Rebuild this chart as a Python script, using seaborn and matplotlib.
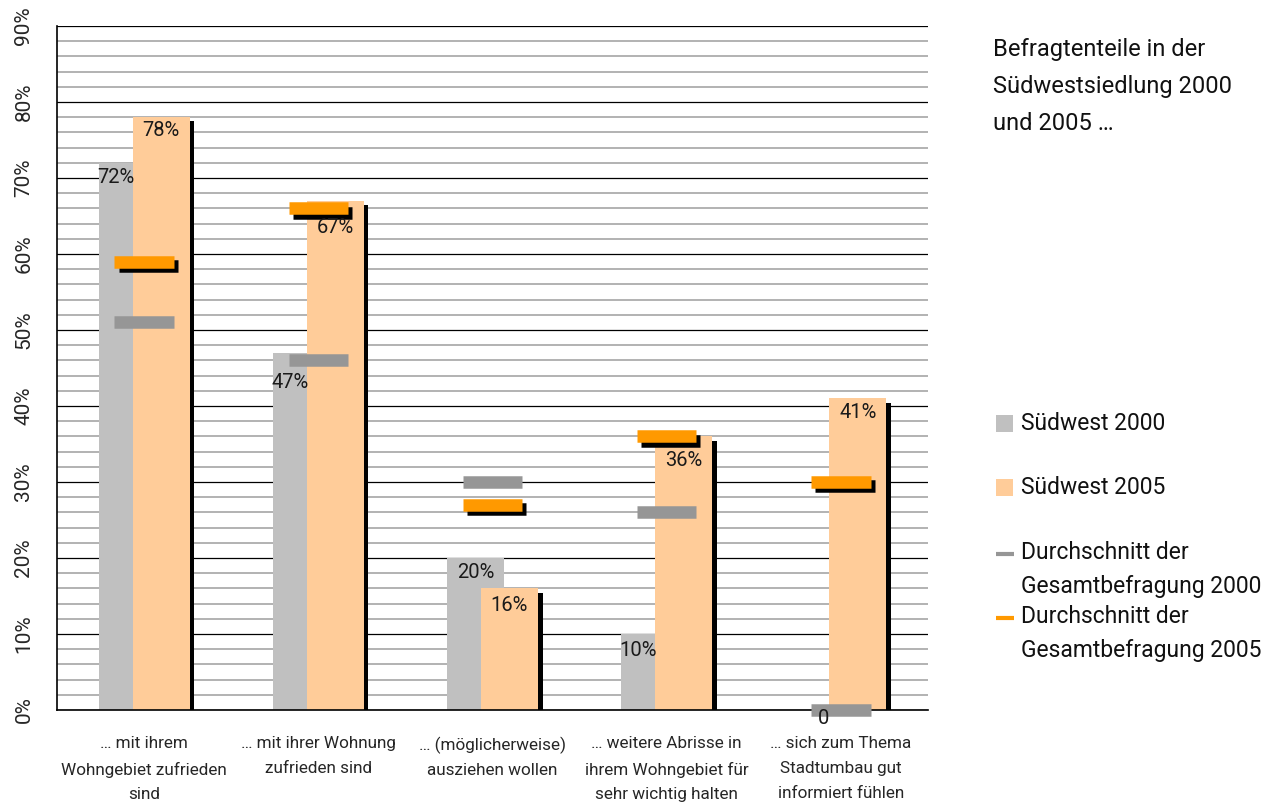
import numpy as np
import pandas as pd
import matplotlib
matplotlib.use("Agg")
import matplotlib.pyplot as plt
import matplotlib.patheffects as pe
from matplotlib.patches import Rectangle
from matplotlib.lines import Line2D
from matplotlib.ticker import FixedLocator, MultipleLocator
import seaborn as sns

# --- data ---
categories = [
    "… mit ihrem\nWohngebiet zufrieden\nsind",
    "… mit ihrer Wohnung\nzufrieden sind",
    "… (möglicherweise)\nausziehen wollen",
    "… weitere Abrisse in\nihrem Wohngebiet für\nsehr wichtig halten",
    "… sich zum Thema\nStadtumbau gut\ninformiert fühlen",
]
suedwest_2000 = [72, 47, 20, 10, 0]
suedwest_2005 = [78, 67, 16, 36, 41]
avg_2000 = [51, 46, 30, 26, 0]
avg_2005 = [59, 66, 27, 36, 30]
y_ticks = [0, 10, 20, 30, 40, 50, 60, 70, 80, 90]

title = "Befragtenteile in der\nSüdwestsiedlung 2000\nund 2005 …"
legend_labels = ["Südwest 2000", "Südwest 2005",
                 "Durchschnitt der\nGesamtbefragung 2000",
                 "Durchschnitt der\nGesamtbefragung 2005"]

GRAY_BAR = "#c0c0c0"
ORANGE_BAR = "#ffcc99"
GRAY_AVG = "#969696"
ORANGE_AVG = "#ff9900"

sns.set_style("white")
plt.rcParams["font.family"] = ["Roboto", "DejaVu Sans"]

W, H = 1278, 807
fig = plt.figure(figsize=(W / 100, H / 100), dpi=100)
ax = fig.add_axes([57 / W, 1 - 710 / H, (928 - 57) / W, (710 - 26) / H])

df = pd.DataFrame({
    "Kategorie": categories * 2,
    "Anteil": suedwest_2000 + suedwest_2005,
    "Reihe": ["Südwest 2000"] * len(categories) + ["Südwest 2005"] * len(categories),
})

sns.barplot(data=df, x="Kategorie", y="Anteil", hue="Reihe",
            palette=[GRAY_BAR, ORANGE_BAR], saturation=1, width=0.39,
            dodge=True, legend=False, ax=ax, zorder=2)

# overlapping bars like the Excel original: widen each bar around its own centre
bar_w = 0.327
n = len(categories)
for p in ax.patches:
    c = p.get_x() + p.get_width() / 2
    p.set_width(bar_w)
    p.set_x(c - bar_w / 2)
    p.set_linewidth(0)
gray_patches = ax.patches[:n]
orange_patches = ax.patches[n:]
for p in orange_patches:
    p.set_path_effects([pe.SimplePatchShadow(offset=(3.3, -3), shadow_rgbFace="black", alpha=1),
                        pe.Normal()])

# averages of the whole survey as short thick dashes
xs = np.arange(n)
half = 0.17
ax.hlines(avg_2000, xs - half, xs + half, colors=GRAY_AVG, linewidth=9, capstyle="butt",
          zorder=4, clip_on=False)
ax.hlines(avg_2005, xs - half, xs + half, colors=ORANGE_AVG, linewidth=9, capstyle="butt", zorder=5,
          path_effects=[pe.SimpleLineShadow(offset=(3, -3), shadow_color="black", alpha=1),
                        pe.Normal()])

# value labels (inside end)
gray_drop = [15, 30, 15, 16, 9]
orange_drop = [13, 27, 17, 24, 14]
for i in range(n):
    gp, op = gray_patches[i], orange_patches[i]
    g, o = suedwest_2000[i], suedwest_2005[i]
    if g > o or g == 0:
        gx = gp.get_x() + bar_w / 2
    else:
        gx = (gp.get_x() + op.get_x()) / 2
    ax.annotate(f"{g}%" if g else "0", (gx, g), xytext=(0, -gray_drop[i] * 0.72),
                textcoords="offset points", ha="center", va="center", fontsize=14.5,
                color="#1a1a1a", zorder=6, annotation_clip=False)
    ax.annotate(f"{o}%", (op.get_x() + bar_w / 2, o), xytext=(0, -orange_drop[i] * 0.72),
                textcoords="offset points", ha="center", va="center", fontsize=14.5,
                color="#1a1a1a", zorder=6)

# axes styling
ax.set_xlim(-0.5, n - 0.5)
ax.set_ylim(0, 90)
ax.set_yticks(y_ticks)
ax.set_yticklabels([f"{t}%" for t in y_ticks], rotation=90, va="center", fontsize=15)
ax.yaxis.set_minor_locator(MultipleLocator(2))
ax.grid(axis="y", which="minor", color="#acacac", linewidth=1.3, zorder=0)
ax.grid(axis="y", which="major", color="#000000", linewidth=0.9, zorder=0)
ax.set_axisbelow(True)
ax.tick_params(axis="y", which="major", direction="inout", length=10, width=1, pad=12)
ax.tick_params(axis="y", which="minor", length=0)

ax.set_xticks(xs)
ax.set_xticklabels(categories, fontsize=12.3, linespacing=1.8)
ax.xaxis.set_minor_locator(FixedLocator(np.arange(-0.5, n, 1.0)))
ax.tick_params(axis="x", which="major", length=0, pad=19)
ax.tick_params(axis="x", which="minor", direction="inout", length=9, width=1)
ax.set_xlabel("")
ax.set_ylabel("")
for s in ["top", "right"]:
    ax.spines[s].set_visible(False)
for s in ["left", "bottom"]:
    ax.spines[s].set_color("black")
    ax.spines[s].set_linewidth(1.2)

# title text on the right
fig.text(993 / W, 1 - 38 / H, title, ha="left", va="top", fontsize=17, linespacing=1.78,
         color="#111111")

# manual legend
def px(x, y):
    return x / W, 1 - y / H

sq = 17
for (color, yc, label) in [(GRAY_BAR, 423, legend_labels[0]), (ORANGE_BAR, 487, legend_labels[1])]:
    fig.add_artist(Rectangle(px(996, yc + sq / 2), sq / W, sq / H, transform=fig.transFigure,
                             facecolor=color, edgecolor="none"))
    fig.text(*px(1021, yc), label, ha="left", va="center", fontsize=16.5, color="#111111")
for (color, yc, label) in [(GRAY_AVG, 554, legend_labels[2]), (ORANGE_AVG, 618, legend_labels[3])]:
    x0, y0 = px(996, yc)
    x1, _ = px(1014, yc)
    fig.add_artist(Line2D([x0, x1], [y0, y0], transform=fig.transFigure, color=color,
                          linewidth=3, solid_capstyle="butt"))
    fig.text(*px(1021, yc - 13), label, ha="left", va="top", fontsize=16.5, linespacing=1.6,
             color="#111111")

fig.savefig("out.png", dpi=100)
